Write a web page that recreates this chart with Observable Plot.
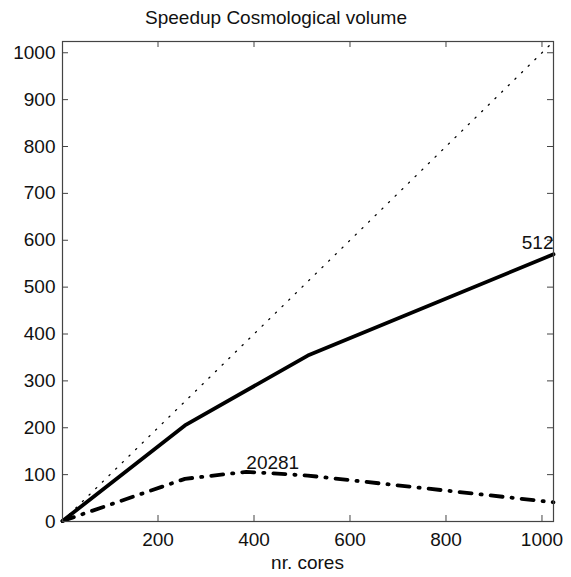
<!DOCTYPE html>
<html>
<head>
<meta charset="utf-8">
<script src="https://cdn.jsdelivr.net/npm/d3@7"></script>
<script src="https://cdn.jsdelivr.net/npm/@observablehq/plot@0.6"></script>
<style>
  body { margin: 0; background: #fff; font-family: "Liberation Sans", Arial, sans-serif; }
  #wrap { position: relative; width: 571px; height: 577px; }
  #title { position: absolute; left: 0; top: 7px; width: 552px; text-align: center; font-size: 19px; color: #111; line-height: 22px; }
  #chart { position: absolute; left: 0; top: 30px; }
  #xlabel { position: absolute; left: 62px; width: 491px; top: 552px; text-align: center; font-size: 19px; color: #111; line-height: 22px; }
</style>
</head>
<body>
<div id="wrap">
  <div id="title">Speedup Cosmological volume</div>
  <div id="chart"></div>
  <div id="xlabel">nr. cores</div>
</div>
<script>
// Data
const coresA = [1, 256, 512, 1024];
const speedup512 = [1, 205, 354, 570];
const coresB = [1, 256, 384, 512, 1024];
const speedup20281 = [1, 91, 106, 98, 41];
const idealCores = [1, 1024];
const idealSpeedup = [1, 1024];
const xTicks = [200, 400, 600, 800, 1000];
const yTicks = [0, 100, 200, 300, 400, 500, 600, 700, 800, 900, 1000];
const labelA = "512";
const labelB = "20281";

const W = 571, H = 520;
const mL = 62, mR = 18, mT = 11, mB = 29;
const iW = W - mL - mR, iH = H - mT - mB;
const tick = 6;
const fmt = d3.format("d");

const lineA = coresA.map((c, i) => ({x: c, y: speedup512[i]}));
const lineB = coresB.map((c, i) => ({x: c, y: speedup20281[i]}));
const ideal = idealCores.map((c, i) => ({x: c, y: idealSpeedup[i]}));

const chart = Plot.plot({
  width: W, height: H,
  marginLeft: mL, marginRight: mR, marginTop: mT, marginBottom: mB,
  style: {fontFamily: "Liberation Sans, Arial, sans-serif", fontSize: "19px", color: "#111", background: "#fff"},
  x: {domain: [1, 1024], label: null},
  y: {domain: [0, 1024], label: null},
  marks: [
    Plot.line(ideal, {x: "x", y: "y", stroke: "#000", strokeWidth: 1.3, strokeDasharray: "1.3,8"}),
    Plot.line(lineA, {x: "x", y: "y", stroke: "#000", strokeWidth: 3.8}),
    Plot.line(lineB, {x: "x", y: "y", stroke: "#000", strokeWidth: 3.8, strokeDasharray: "12,9,1.2,9"}),
    Plot.frame({stroke: "#444", strokeWidth: 1.2}),
    Plot.tickX(xTicks, {x: d => d, insetTop: iH - tick, stroke: "#444"}),
    Plot.tickX(xTicks, {x: d => d, insetBottom: iH - tick, stroke: "#444"}),
    Plot.tickY(yTicks, {y: d => d, insetRight: iW - tick, stroke: "#444"}),
    Plot.tickY(yTicks, {y: d => d, insetLeft: iW - tick, stroke: "#444"}),
    Plot.axisX({ticks: xTicks, tickFormat: fmt, tickSize: 0, tickPadding: 11, fontSize: 19, label: null}),
    Plot.axisY({ticks: yTicks, tickFormat: fmt, tickSize: 0, tickPadding: 7, fontSize: 19, label: null}),
    Plot.text([{x: coresA[3], y: speedup512[3], t: labelA}], {x: "x", y: "y", text: "t", textAnchor: "end", lineAnchor: "bottom", dy: -5, fontSize: 19, fill: "#111"}),
    Plot.text([{x: coresB[2], y: speedup20281[2], t: labelB}], {x: "x", y: "y", text: "t", textAnchor: "start", lineAnchor: "bottom", dy: -3, fontSize: 19, fill: "#111"})
  ]
});
document.getElementById("chart").appendChild(chart);
</script>
</body>
</html>
